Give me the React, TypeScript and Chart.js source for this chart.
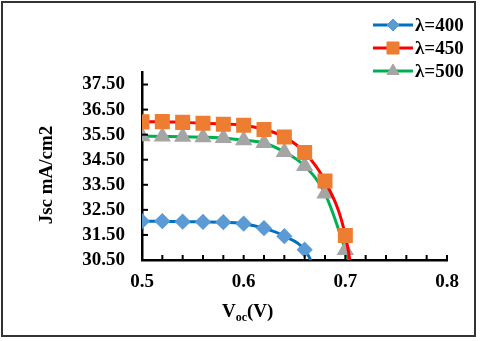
import React, { useEffect, useRef } from "react";
import { Chart, registerables } from "chart.js";
import { drawPoint } from "chart.js/helpers";

Chart.register(...registerables);

const voc = [0.5, 0.52, 0.54, 0.56, 0.58, 0.6, 0.62, 0.64, 0.66, 0.68, 0.7, 0.72];
const jsc400 = [32.05, 32.05, 32.03, 32.02, 32.01, 31.95, 31.77, 31.45, 30.91, 29.27];
const jsc450 = [36.01, 36.02, 35.99, 35.96, 35.92, 35.88, 35.71, 35.41, 34.79, 33.65, 31.48, 26.3];
const jsc500 = [35.44, 35.43, 35.42, 35.4, 35.37, 35.28, 35.17, 34.81, 34.25, 33.15, 30.9, 28.2];
const seriesLabels = ["λ=400", "λ=450", "λ=500"];
const xTicks = [0.5, 0.52, 0.54, 0.56, 0.58, 0.6, 0.62, 0.64, 0.66, 0.68, 0.7, 0.72, 0.74, 0.76, 0.78, 0.8];
const xLabelTicks = [0.5, 0.6, 0.7, 0.8];
const yTicks = [30.5, 31.5, 32.5, 33.5, 34.5, 35.5, 36.5, 37.5];
const yTitle = "Jsc mA/cm2";

const FONT = "'Liberation Serif', 'Times New Roman', serif";

const toPoints = (ys: number[]) => ys.map((y, i) => ({ x: voc[i], y }));

const decorPlugin = {
  id: "decor",
  beforeDraw(chart: any) {
    const ctx = chart.ctx;
    ctx.save();
    ctx.fillStyle = "#ffffff";
    ctx.fillRect(0, 0, chart.width, chart.height);
    ctx.restore();
  },
  afterDraw(chart: any) {
    const ctx = chart.ctx;
    const xs = chart.scales.x;
    const ys = chart.scales.y;
    const area = chart.chartArea;
    ctx.save();
    // inside tick marks
    ctx.strokeStyle = "#000";
    ctx.lineWidth = 2;
    xs.ticks.forEach((t: any) => {
      const px = xs.getPixelForValue(t.value);
      ctx.beginPath();
      ctx.moveTo(px, area.bottom);
      ctx.lineTo(px, area.bottom - 5);
      ctx.stroke();
    });
    ys.ticks.forEach((t: any) => {
      const py = ys.getPixelForValue(t.value);
      ctx.beginPath();
      ctx.moveTo(area.left, py);
      ctx.lineTo(area.left + 6, py);
      ctx.stroke();
    });
    // legend
    chart.data.datasets.forEach((ds: any, i: number) => {
      const cy = 25 + i * 23;
      ctx.strokeStyle = ds.borderColor;
      ctx.lineWidth = 3;
      ctx.beginPath();
      ctx.moveTo(373, cy);
      ctx.lineTo(413, cy);
      ctx.stroke();
      ctx.fillStyle = ds.pointBackgroundColor;
      ctx.strokeStyle = ds.pointBorderColor;
      ctx.lineWidth = 1;
      drawPoint(ctx, { pointStyle: ds.pointStyle, radius: ds.pointRadius, borderWidth: 1, rotation: 0 }, 393, cy);
      ctx.fillStyle = "#000";
      ctx.font = `bold 19px ${FONT}`;
      ctx.textBaseline = "middle";
      ctx.textAlign = "left";
      ctx.fillText(ds.label, 415, cy + 1);
    });
    // y title
    ctx.save();
    ctx.translate(52, 175);
    ctx.rotate(-Math.PI / 2);
    ctx.font = `bold 19px ${FONT}`;
    ctx.textAlign = "center";
    ctx.textBaseline = "alphabetic";
    ctx.fillStyle = "#000";
    ctx.fillText(yTitle, 0, 0);
    ctx.restore();
    // x title with subscript
    ctx.fillStyle = "#000";
    ctx.textBaseline = "alphabetic";
    ctx.textAlign = "left";
    let x = 222;
    ctx.font = `bold 19px ${FONT}`;
    ctx.fillText("V", x, 317);
    x += ctx.measureText("V").width;
    ctx.font = `bold 12px ${FONT}`;
    ctx.fillText("oc", x, 321);
    x += ctx.measureText("oc").width;
    ctx.font = `bold 19px ${FONT}`;
    ctx.fillText("(V)", x, 317);
    // outer border
    ctx.strokeStyle = "#333";
    ctx.lineWidth = 2;
    ctx.strokeRect(2, 2, 473, 334);
    ctx.restore();
  },
};

export default function App() {
  const ref = useRef<HTMLCanvasElement | null>(null);
  useEffect(() => {
    if (!ref.current) return;
    const chart = new Chart(ref.current, {
      type: "line",
      data: {
        datasets: [
          {
            label: seriesLabels[0],
            data: toPoints(jsc400),
            borderColor: "#0070C0",
            backgroundColor: "#5B9BD5",
            pointBackgroundColor: "#5B9BD5",
            pointBorderColor: "#5B9BD5",
            pointStyle: "rectRot",
            pointRadius: 6,
            borderWidth: 3,
            cubicInterpolationMode: "monotone",
          },
          {
            label: seriesLabels[1],
            data: toPoints(jsc450),
            borderColor: "#FF0000",
            backgroundColor: "#ED7D31",
            pointBackgroundColor: "#ED7D31",
            pointBorderColor: "#ED7D31",
            pointStyle: "rect",
            pointRadius: 8.5,
            borderWidth: 3,
            cubicInterpolationMode: "monotone",
          },
          {
            label: seriesLabels[2],
            data: toPoints(jsc500),
            borderColor: "#00B050",
            backgroundColor: "#A5A5A5",
            pointBackgroundColor: "#A5A5A5",
            pointBorderColor: "#A5A5A5",
            pointStyle: "triangle",
            pointRadius: 7,
            borderWidth: 3,
            cubicInterpolationMode: "monotone",
          },
        ] as any,
      },
      options: {
        animation: false,
        responsive: false,
        devicePixelRatio: 1,
        layout: { padding: { top: 72, right: 33, left: 0, bottom: 0 } },
        plugins: { legend: { display: false }, tooltip: { enabled: false } },
        scales: {
          x: {
            type: "linear",
            min: 0.5,
            max: 0.8,
            afterBuildTicks: (s: any) => {
              s.ticks = xTicks.map((v) => ({ value: v }));
            },
            afterFit: (s: any) => {
              s.height = 81;
            },
            ticks: {
              autoSkip: false,
              maxRotation: 0,
              padding: 11,
              color: "#000",
              font: { family: FONT, size: 19, weight: "bold" },
              callback: (v: any) => {
                const n = Number(v);
                return xLabelTicks.some((t) => Math.abs(t - n) < 1e-6) ? String(Math.round(n * 10) / 10) : "";
              },
            },
            grid: { display: true, drawOnChartArea: false, drawTicks: false },
            border: { display: true, color: "#000", width: 2.5 },
          },
          y: {
            type: "linear",
            min: 30.5,
            max: 38,
            afterBuildTicks: (s: any) => {
              s.ticks = yTicks.map((v) => ({ value: v }));
            },
            afterFit: (s: any) => {
              s.width = 142;
            },
            ticks: {
              autoSkip: false,
              padding: 17,
              color: "#000",
              font: { family: FONT, size: 19, weight: "bold" },
              callback: (v: any) => Number(v).toFixed(2),
            },
            grid: { display: true, drawOnChartArea: false, drawTicks: false },
            border: { display: true, color: "#000", width: 2.5 },
          },
        },
      },
      plugins: [decorPlugin],
    } as any);
    return () => chart.destroy();
  }, []);
  return (
    <div style={{ position: "fixed", left: 0, top: 0, width: 480, height: 341, background: "#fff" }}>
      <canvas ref={ref} width={480} height={341} style={{ display: "block" }} />
    </div>
  );
}
